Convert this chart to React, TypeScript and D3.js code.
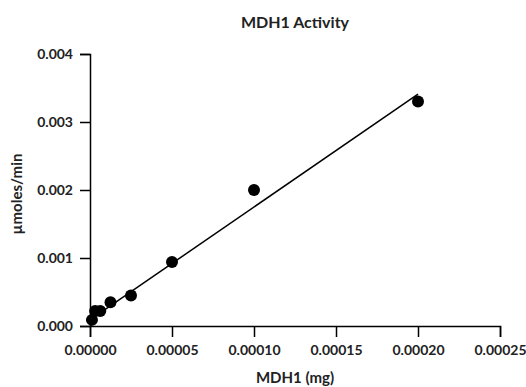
import React, { useEffect, useRef } from 'react';
import * as d3 from 'd3';

// MDH1 amount (mg) vs activity (µmoles/min)
const mdhAmount = [0.0002, 0.0001, 0.00005, 0.000025, 0.0000125, 0.00000625, 0.000003125, 0.0000012];
const activity = [0.0033, 0.002, 0.00094, 0.00045, 0.00035, 0.00022, 0.00022, 0.00009];

// fitted line (start/end of the regression)
const fitX = [0, 0.0002];
const fitY = [0.00009, 0.00341];

const xTicks = [0, 0.00005, 0.0001, 0.00015, 0.0002, 0.00025];
const yTicks = [0, 0.001, 0.002, 0.003, 0.004];

const App = () => {
  const svgRef = useRef<SVGSVGElement>(null);

  useEffect(() => {
    const width = 526;
    const height = 387;
    const margin = { top: 54, right: 26, bottom: 61, left: 90 };
    const font = 'Lato, sans-serif';

    const svg = d3.select(svgRef.current).attr('width', width).attr('height', height);
    svg.selectAll('*').remove();

    const x = d3.scaleLinear().domain([0, 0.00025]).range([margin.left, width - margin.right]);
    const y = d3.scaleLinear().domain([0, 0.004]).range([height - margin.bottom, margin.top]);

    const xAxis = svg
      .append('g')
      .attr('transform', `translate(0,${y(0)})`)
      .call(d3.axisBottom(x).tickValues(xTicks).tickFormat(d3.format('.5f')).tickSizeOuter(0).tickSize(11).tickPadding(8));
    const yAxis = svg
      .append('g')
      .attr('transform', `translate(${x(0)},0)`)
      .call(d3.axisLeft(y).tickValues(yTicks).tickFormat(d3.format('.3f')).tickSizeOuter(0).tickSize(10).tickPadding(7));

    [xAxis, yAxis].forEach((g) => {
      g.select('.domain').attr('stroke', '#000').attr('stroke-width', 1.5);
      g.selectAll('.tick line').attr('stroke', '#000').attr('stroke-width', 1.5);
      g.selectAll('.tick text')
        .attr('fill', '#222')
        .attr('font-family', font)
        .attr('font-weight', 'bold')
        .attr('font-size', 14);
    });

    svg
      .append('line')
      .attr('x1', x(fitX[0]))
      .attr('y1', y(fitY[0]))
      .attr('x2', x(fitX[1]))
      .attr('y2', y(fitY[1]))
      .attr('stroke', '#000')
      .attr('stroke-width', 1.5);

    svg
      .append('g')
      .selectAll('circle')
      .data(mdhAmount)
      .enter()
      .append('circle')
      .attr('cx', (d) => x(d))
      .attr('cy', (d, i) => y(activity[i]))
      .attr('r', 6)
      .attr('fill', '#000');

    svg
      .append('text')
      .attr('x', 295)
      .attr('y', 28)
      .attr('text-anchor', 'middle')
      .attr('font-family', font)
      .attr('font-weight', 'bold')
      .attr('font-size', 16)
      .attr('fill', '#222')
      .text('MDH1 Activity');

    svg
      .append('text')
      .attr('x', 295)
      .attr('y', 383)
      .attr('text-anchor', 'middle')
      .attr('font-family', font)
      .attr('font-weight', 'bold')
      .attr('font-size', 15)
      .attr('fill', '#222')
      .text('MDH1 (mg)');

    svg
      .append('text')
      .attr('transform', `translate(22,194) rotate(-90)`)
      .attr('text-anchor', 'middle')
      .attr('font-family', font)
      .attr('font-weight', 'bold')
      .attr('font-size', 15)
      .attr('fill', '#222')
      .text('µmoles/min');
  }, []);

  return (
    <div style={{ position: 'absolute', left: 0, top: 0 }}>
      <svg ref={svgRef}></svg>
    </div>
  );
};

export default App;
